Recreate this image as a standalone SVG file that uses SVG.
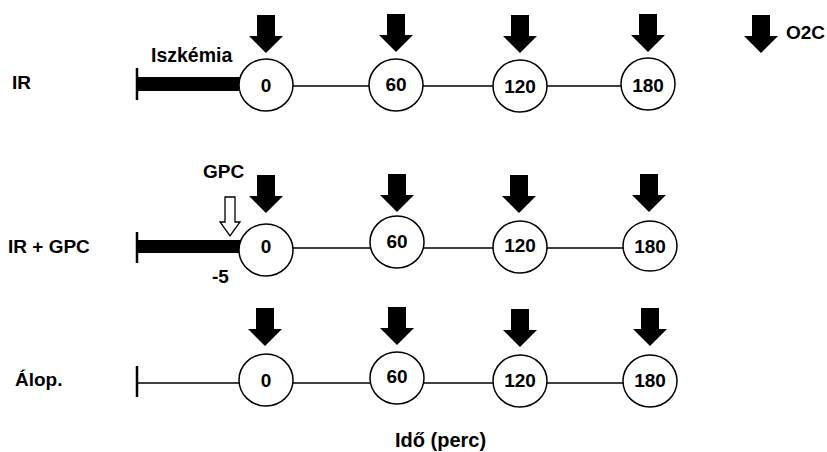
<svg xmlns="http://www.w3.org/2000/svg" width="827" height="452" viewBox="0 0 827 452">
<style>
text{font-family:"Liberation Sans",Arial,sans-serif;font-weight:bold;fill:#000}
.lbl{font-size:19px}
.num{font-size:19px;text-anchor:middle}
.node{fill:#fff;stroke:#000;stroke-width:1.5}
.ln{stroke:#000;stroke-width:1.5;fill:none}
.tick{stroke:#000;stroke-width:2.5}
.bar{fill:#000}
</style>
<defs>
<path id="arr" d="M-9,-38 H9 V-17 H17 L0,0 L-17,-17 H-9 Z" fill="#000"/>
</defs>
<rect width="827" height="452" fill="#fff"/>
<g id="connectors">
<line class="ln" x1="137" y1="86" x2="621" y2="86"/>
<line class="ln" x1="137" y1="248" x2="623" y2="248"/>
<line class="ln" x1="137" y1="383" x2="623" y2="383"/>
<line class="tick" x1="137" y1="68" x2="137" y2="100"/>
<line class="tick" x1="137" y1="232" x2="137" y2="263"/>
<line class="tick" x1="137" y1="366" x2="137" y2="397"/>
<rect class="bar" x="137" y="77" width="103" height="14"/>
<rect class="bar" x="137" y="240" width="103" height="13"/>
<path d="M225,197 H235 V222 H240 L230,236 L220,222 H225 Z" fill="#fff" stroke="#000" stroke-width="1.3"/>
<use href="#arr" x="266" y="53"/>
<use href="#arr" x="396" y="52"/>
<use href="#arr" x="520" y="53"/>
<use href="#arr" x="648" y="52"/>
<use href="#arr" x="761" y="53"/>
<use href="#arr" x="266" y="213"/>
<use href="#arr" x="397" y="212"/>
<use href="#arr" x="519" y="213"/>
<use href="#arr" x="649" y="212"/>
<use href="#arr" x="265" y="346"/>
<use href="#arr" x="397" y="345"/>
<use href="#arr" x="520" y="347"/>
<use href="#arr" x="650" y="346"/>
</g>
<g id="labels">
<text class="lbl" x="12" y="89">IR</text>
<text class="lbl" x="8" y="253">IR + GPC</text>
<text class="lbl" x="15" y="386">Álop.</text>
<text class="lbl" x="151" y="62" style="font-size:19.5px">Iszkémia</text>
<text class="lbl" x="203" y="178">GPC</text>
<text class="lbl" x="212" y="283">-5</text>
<text class="lbl" x="786" y="39">O2C</text>
<text class="lbl" x="395" y="447" style="font-size:20px">Idő (perc)</text>
</g>
<g id="r1n0"><ellipse class="node" cx="266" cy="85" rx="27" ry="26"/><text class="num" x="266" y="92">0</text></g>
<g id="r1n60"><ellipse class="node" cx="396" cy="85" rx="27" ry="26"/><text class="num" x="396" y="91">60</text></g>
<g id="r1n120"><ellipse class="node" cx="520" cy="86" rx="27" ry="26"/><text class="num" x="520" y="93">120</text></g>
<g id="r1n180"><ellipse class="node" cx="648" cy="84" rx="27" ry="26"/><text class="num" x="648" y="92">180</text></g>
<g id="r2n0"><ellipse class="node" cx="266" cy="250" rx="27" ry="26"/><text class="num" x="266" y="253">0</text></g>
<g id="r2n60"><ellipse class="node" cx="397" cy="242" rx="27" ry="26"/><text class="num" x="397" y="248">60</text></g>
<g id="r2n120"><ellipse class="node" cx="520" cy="247" rx="27" ry="26"/><text class="num" x="520" y="252">120</text></g>
<g id="r2n180"><ellipse class="node" cx="650" cy="246" rx="27" ry="25"/><text class="num" x="650" y="253">180</text></g>
<g id="r3n0"><ellipse class="node" cx="266" cy="380" rx="27" ry="26"/><text class="num" x="266" y="387">0</text></g>
<g id="r3n60"><ellipse class="node" cx="397" cy="378" rx="27" ry="26"/><text class="num" x="397" y="383">60</text></g>
<g id="r3n120"><ellipse class="node" cx="520" cy="381" rx="27" ry="26"/><text class="num" x="520" y="387">120</text></g>
<g id="r3n180"><ellipse class="node" cx="650" cy="381" rx="27" ry="26"/><text class="num" x="650" y="387">180</text></g>
</svg>
